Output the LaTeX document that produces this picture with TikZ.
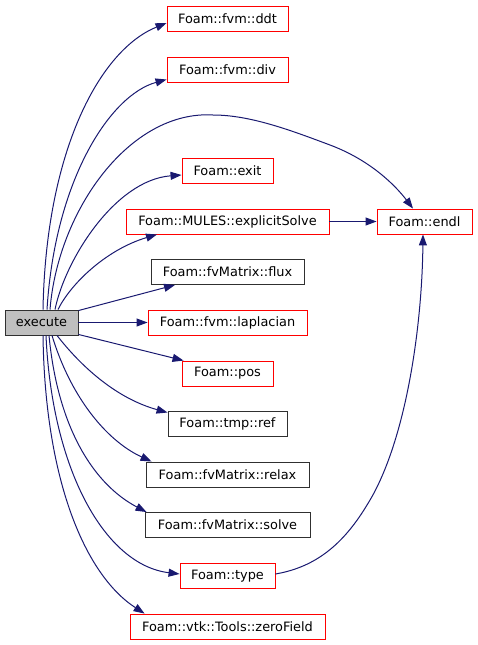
\documentclass[tikz,border=0pt]{standalone}
\usepackage{fontspec}
\setmainfont{DejaVu Sans}
\usetikzlibrary{arrows.meta}
\definecolor{edgeblue}{HTML}{191970}
\definecolor{nodegray}{HTML}{BFBFBF}
\definecolor{nodeborder}{HTML}{303030}
\begin{document}
\begin{tikzpicture}[x=1pt,y=-1pt,
  fn/.style={draw, line width=0.9pt, minimum height=25pt, inner sep=0pt, font=\fontsize{12.9}{15}\selectfont, text=black},
  redfn/.style={fn, draw=red},
  blkfn/.style={fn, draw=nodeborder},
  call/.style={draw=edgeblue, line width=1pt, -{Triangle[length=11pt,width=8pt]}}
]
\useasboundingbox (0,0) rectangle (477,645);
\node[blkfn, fill=nodegray, minimum width=73pt] (exe) at (41.5,322.5) {execute};
\node[redfn, minimum width=121pt] (ddt) at (227.5,18.5) {Foam::fvm::ddt};
\node[redfn, minimum width=121pt] (div) at (227.5,69.5) {Foam::fvm::div};
\node[redfn, minimum width=91pt] (exit) at (227.5,170.5) {Foam::exit};
\node[redfn, minimum width=203pt] (es) at (227.5,221.5) {Foam::MULES::explicitSolve};
\node[redfn, minimum width=95pt] (endl) at (424.5,221.5) {Foam::endl};
\node[blkfn, minimum width=153pt] (flux) at (227.5,272) {Foam::fvMatrix::flux};
\node[redfn, minimum width=159pt] (lap) at (227.5,322.5) {Foam::fvm::laplacian};
\node[redfn, minimum width=91pt] (pos) at (227.5,373.5) {Foam::pos};
\node[blkfn, minimum width=119pt] (ref) at (227.5,423.5) {Foam::tmp::ref};
\node[blkfn, minimum width=163pt] (relax) at (227.5,474.5) {Foam::fvMatrix::relax};
\node[blkfn, minimum width=165pt] (solve) at (227.5,525) {Foam::fvMatrix::solve};
\node[redfn, minimum width=95pt] (type) at (227.5,576) {Foam::type};
\node[redfn, minimum width=195pt] (zf) at (227.5,626.5) {Foam::vtk::Tools::zeroField};

\draw[call] ([xshift=1.5pt]exe.north) .. controls (46,150) and (100,50) .. ([yshift=-4.5pt]ddt.west);
\draw[call] ([xshift=5.5pt]exe.north) .. controls (55,180) and (110,95) .. ([yshift=-10pt]div.west);
\draw[call] ([xshift=8.5pt]exe.north) .. controls (58,210) and (130,110) .. (213,115) .. controls (250,115) and (290,130) .. (330,145) .. controls (370,160) and (395,185) .. ([xshift=-11.5pt]endl.north);
\draw[call] ([xshift=13.5pt]exe.north) .. controls (65,260) and (115,180) .. ([yshift=-4.5pt]exit.west);
\draw[call] ([xshift=16.5pt]exe.north) .. controls (70,285) and (105,250) .. ([xshift=-70.5pt]es.south);
\draw[call] (es.east) -- (endl.west);
\draw[call] ([yshift=-1pt]exe.north east) -- ([xshift=-52.5pt]flux.south);
\draw[call] (exe.east) -- (lap.west);
\draw[call] ([yshift=1pt]exe.south east) -- ([xshift=2pt]pos.north west);
\draw[call] ([xshift=15.5pt]exe.south) .. controls (80,365) and (115,398) .. ([yshift=-2pt]ref.north west);
\draw[call] ([xshift=10.5pt]exe.south) .. controls (70,395) and (105,440) .. ([xshift=6pt]relax.north west);
\draw[call] ([xshift=7.5pt]exe.south) .. controls (58,430) and (95,485) .. ([xshift=2pt]solve.north west);
\draw[call] ([xshift=4.5pt]exe.south) .. controls (52,470) and (105,565) .. ([yshift=2pt]type.west);
\draw[call] ([xshift=1.5pt]exe.south) .. controls (45,480) and (85,575) .. ([xshift=15pt]zf.north west);
\draw[call] ([yshift=2pt]type.east) .. controls (310,568) and (340,550) .. (367,505) .. controls (405,445) and (422,330) .. ([xshift=-1.5pt]endl.south);
\end{tikzpicture}
\end{document}
